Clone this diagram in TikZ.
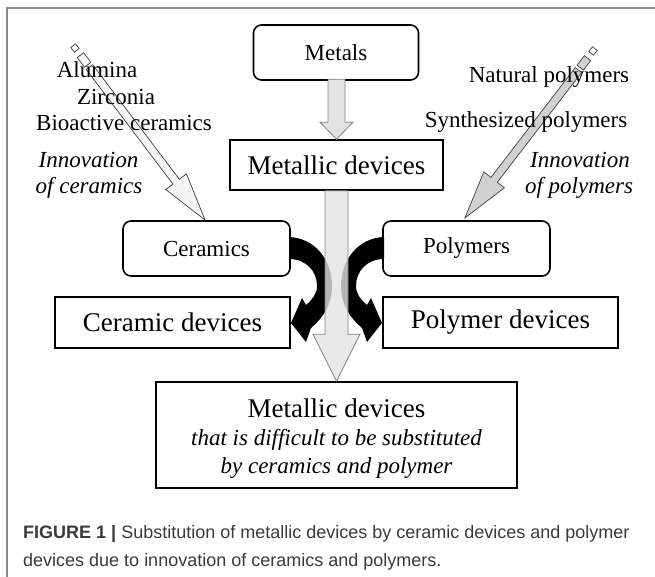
\documentclass[tikz,border=0pt]{standalone}
\usepackage{fontspec}
\setmainfont{Liberation Serif}
\newfontfamily\capfont{Liberation Sans}
\usetikzlibrary{calc}
\definecolor{captxt}{HTML}{3A3A3A}
\definecolor{framegray}{HTML}{8C8C8C}
\begin{document}
\begin{tikzpicture}[x=1pt,y=-1pt,
  box/.style={draw=black, line width=1.6pt, fill=white, inner sep=0pt},
  rbox/.style={box, rounded corners=8pt},
  txt/.style={inner sep=0pt, font=\fontsize{23}{27}\selectfont},
  bigtxt/.style={inner sep=0pt, font=\fontsize{27}{31}\selectfont},
  itxt/.style={inner sep=0pt, font=\fontsize{23}{27}\selectfont\itshape},
  grayarrow/.style={draw=black!50, line width=0.8pt, fill=black!11},
  diagarrow/.style={draw=black!75, line width=0.7pt},
  captext/.style={inner sep=0pt, anchor=base west, text=captxt, font=\capfont\fontsize{18}{21}\selectfont},
]
\useasboundingbox (0,0) rectangle (655,577);
\draw[framegray, line width=1.5pt] (7,577) -- (7,8) -- (655,8);

% boxes
\node[rbox, minimum width=165pt, minimum height=55pt] (metals) at (336,52.5) {};
\node[txt] (metalsT) at (metals.center) {Metals};
\node[box, minimum width=213pt, minimum height=50pt] (mdev) at (336.5,165) {};
\node[bigtxt] (mdevT) at (mdev.center) {Metallic devices};
\node[rbox, minimum width=167pt, minimum height=55pt] (cer) at (206.5,248.5) {};
\node[txt] (cerT) at (cer.center) {Ceramics};
\node[rbox, minimum width=167pt, minimum height=55pt] (pol) at (466.5,248.5) {};
\node[txt] (polT) at (pol.center) {Polymers};
\node[box, minimum width=235pt, minimum height=51pt] (cdev) at (172.5,322.5) {};
\node[bigtxt] (cdevT) at (cdev.center) {Ceramic devices};
\node[box, minimum width=235pt, minimum height=51pt] (pdev) at (500.5,322.5) {};
\node[bigtxt] (pdevT) at (pdev.center) {Polymer devices};
\node[box, minimum width=361pt, minimum height=106pt] (bot) at (336.5,435) {};
\node[bigtxt] (bot1) at (336.5,408) {Metallic devices};
\node[itxt] (bot2) at (336.5,440) {that is difficult to be substituted};
\node[itxt] (bot3) at (336.5,468) {by ceramics and polymer};

% small gray arrow Metals -> Metallic devices
\draw[grayarrow]
  ($(mdev.north)+(-8.5,-60)$) -- ($(mdev.north)+(8.5,-60)$) --
  ($(mdev.north)+(8.5,-17)$) -- ($(mdev.north)+(16.5,-17)$) -- (mdev.north) --
  ($(mdev.north)+(-16.5,-17)$) -- ($(mdev.north)+(-8.5,-17)$) -- cycle;

% black curved arrows
\fill[black] (289,237) .. controls (315,238) and (332,260) .. (332,286)
  .. controls (332,304) and (323,318) .. (311,328) -- (306,342) -- (291,323)
  -- (302,298) -- (306,305) .. controls (312,300) and (317,294) .. (317,286)
  .. controls (317,271) and (306,259) .. (289,259) -- cycle;
\begin{scope}[xshift=673pt, xscale=-1]
\fill[black] (289,237) .. controls (315,238) and (332,260) .. (332,286)
  .. controls (332,304) and (323,318) .. (311,328) -- (306,342) -- (291,323)
  -- (302,298) -- (306,305) .. controls (312,300) and (317,294) .. (317,286)
  .. controls (317,271) and (306,259) .. (289,259) -- cycle;
\end{scope}

% big gray arrow Metallic devices -> bottom box
\draw[grayarrow, fill opacity=0.8]
  ($(mdev.south)+(-11.5,0)$) -- ($(mdev.south)+(11.5,0)$) --
  ($(bot.north)+(11.5,-47)$) -- ($(bot.north)+(23.5,-47)$) -- (bot.north) --
  ($(bot.north)+(-23.5,-47)$) -- ($(bot.north)+(-11.5,-47)$) -- cycle;

% diagonal arrows
\coordinate (ltail) at (75,48);
\coordinate (rtail) at (593,51);
\begin{scope}[shift={(ltail)}, rotate=-52.9]
  \draw[diagarrow, fill=white] (-3,-3) -- (3,-3) -- (3,3) -- (-3,3) -- cycle;
  \draw[diagarrow, fill=black!4] (9,-4) -- (21,-4) -- (21,4) -- (9,4) -- cycle;
  \draw[diagarrow, fill=black!4] (24,-4) -- (167.6,-4) -- (167.6,-13) -- (215.6,0)
    -- (167.6,13) -- (167.6,4) -- (24,4) -- cycle;
\end{scope}
\begin{scope}[shift={(rtail)}, rotate=-127.5]
  \draw[diagarrow, fill=white] (-3,-3) -- (3,-3) -- (3,3) -- (-3,3) -- cycle;
  \draw[diagarrow, fill=black!18] (9,-4) -- (21,-4) -- (21,4) -- (9,4) -- cycle;
  \draw[diagarrow, fill=black!18] (24,-4) -- (162.4,-4) -- (162.4,-13) -- (210.4,0)
    -- (162.4,13) -- (162.4,4) -- (24,4) -- cycle;
\end{scope}

% side labels
\node[txt] (alu) at (97,70) {Alumina};
\node[txt] (zir) at (116,97) {Zirconia};
\node[txt] (bio) at (124,123) {Bioactive ceramics};
\node[itxt] (innc1) at (88.5,160) {Innovation};
\node[itxt] (innc2) at (89,188) {of ceramics};
\node[txt] (nat) at (549,77) {Natural polymers};
\node[txt] (syn) at (526,122) {Synthesized polymers};
\node[itxt] (innp1) at (580,160) {Innovation};
\node[itxt] (innp2) at (579,188) {of polymers};

% caption
\node[captext] (cap1) at (23,538) {\textbf{FIGURE 1 |} Substitution of metallic devices by ceramic devices and polymer};
\node[captext] (cap2) at (23,566) {devices due to innovation of ceramics and polymers.};
\end{tikzpicture}
\end{document}
